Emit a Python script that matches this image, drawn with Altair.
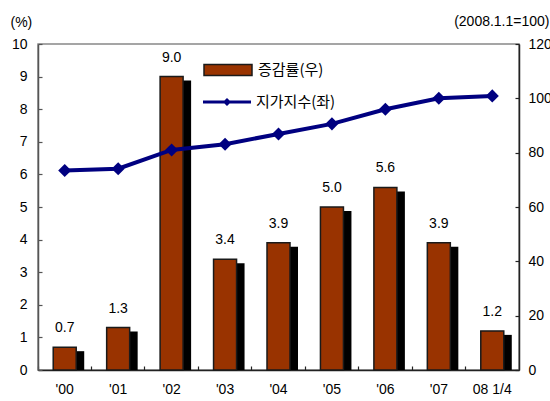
import altair as alt
import pandas as pd

cats = ["'00", "'01", "'02", "'03", "'04", "'05", "'06", "'07", "08 1/4"]
rate = [0.7, 1.3, 9.0, 3.4, 3.9, 5.0, 5.6, 3.9, 1.2]
land_index = [73.4, 74.1, 81.0, 83.1, 86.9, 90.6, 96.0, 100.0, 100.9]
bar_name = "증감률(우)"
line_name = "지가지수(좌)"

df = pd.DataFrame({
    "cat": cats,
    "rate": rate,
    "idx": land_index,
    "bar_s": [bar_name] * len(cats),
    "line_s": [line_name] * len(cats),
})

FONT = "Liberation Sans"
KFONT = "Noto Sans CJK KR"
ORANGE = "#993300"
NAVY = "#000080"
AX = "#222222"


def X(axis):
    return alt.X("cat:N", sort=cats,
                 scale=alt.Scale(paddingInner=0, paddingOuter=0),
                 axis=axis)


def YL(axis):
    return alt.Y("rate:Q", scale=alt.Scale(domain=[0, 10], nice=False, zero=True), axis=axis)


def YR(axis):
    return alt.Y("idx:Q", scale=alt.Scale(domain=[0, 120], nice=False, zero=True), axis=axis)


x_main = alt.Axis(orient="bottom", title=None, labelAngle=0, ticks=False,
                  domainColor=AX, domainWidth=1.5, labelFontSize=14,
                  labelPadding=12, labelColor="black", labelFont=FONT)
x_ticks = alt.Axis(orient="bottom", title=None, labels=False, domain=False,
                   ticks=True, tickSize=4, tickColor=AX, tickWidth=1.2,
                   bandPosition=0, offset=-4)

yl_main = alt.Axis(orient="left", title="(%)", titleAngle=0, titleX=-28, titleY=-18,
                   titleAlign="left", titleBaseline="alphabetic", titleFontSize=14,
                   titleFont=FONT, titleFontWeight="normal", titleColor="black",
                   ticks=False, values=list(range(0, 11)), labelPadding=11,
                   labelFontSize=14, labelFont=FONT, labelColor="black",
                   domainColor="#555555", domainWidth=1.5)
yl_ticks = alt.Axis(orient="left", title=None, labels=False, domain=False,
                    values=list(range(0, 11)), tickSize=4, tickColor="#555555",
                    tickWidth=1.2, offset=-4)

yr_main = alt.Axis(orient="right", title="(2008.1.1=100)", titleAngle=0, titleX=30,
                   titleY=-19, titleAlign="right", titleBaseline="alphabetic",
                   titleFontSize=14, titleFont=FONT, titleFontWeight="normal",
                   titleColor="black", ticks=False, values=list(range(0, 121, 20)),
                   labelPadding=9, labelFontSize=14, labelFont=FONT,
                   labelColor="black", domainColor=AX, domainWidth=1.5)
yr_ticks = alt.Axis(orient="right", title=None, labels=False, domain=False,
                    values=list(range(0, 121, 20)), tickSize=4, tickColor=AX,
                    tickWidth=1.2, offset=-4)

base = alt.Chart(df)

shadow = base.mark_bar(size=23, color="black", xOffset=8, yOffset=4, clip=True).encode(
    x=X(x_ticks), y=YL(yl_ticks))

bars = base.mark_bar(size=23, stroke="#1a1a1a", strokeWidth=1.5).encode(
    x=X(x_main), y=YL(yl_main),
    fill=alt.Fill("bar_s:N", scale=alt.Scale(domain=[bar_name], range=[ORANGE]),
                  legend=alt.Legend(title=None, orient="none", legendX=165, legendY=1,
                                    symbolType="M-1,-0.23H1V0.23H-1Z", symbolSize=2304,
                                    symbolStrokeColor="#1a1a1a", symbolStrokeWidth=1.5,
                                    labelFont=KFONT, labelFontSize=15, labelColor="black",
                                    labelOffset=5, padding=0)))

labels = base.mark_text(dy=-15, baseline="alphabetic", fontSize=14, font=FONT,
                        color="black").encode(
    x=X(None), y=YL(None), text=alt.Text("rate:Q", format=".1f"))

line = base.mark_line(strokeWidth=4).encode(
    x=X(None), y=YR(yr_main),
    stroke=alt.Stroke("line_s:N", scale=alt.Scale(domain=[line_name], range=[NAVY]),
                      legend=alt.Legend(title=None, orient="none", legendX=165, legendY=34,
                                        symbolType="M-1,-0.065H1V0.065H-1Z M0,-0.17L0.17,0L0,0.17L-0.17,0Z",
                                        symbolSize=2304, symbolFillColor=NAVY,
                                        symbolStrokeWidth=0,
                                        labelFont=KFONT, labelFontSize=15,
                                        labelColor="black", labelOffset=5, padding=0)))

points = base.mark_point(shape="diamond", filled=True, size=170, opacity=1,
                         color=NAVY).encode(x=X(None), y=YR(yr_ticks))

chart = alt.layer(shadow, bars, labels, line, points).resolve_scale(
    y="independent"
).resolve_axis(
    x="independent", y="independent"
).properties(
    width=481, height=326,
    autosize=alt.AutoSizeParams(type="none"),
    padding={"left": 38, "top": 44, "right": 31, "bottom": 31},
    background="white",
).configure_view(
    stroke="#888888", strokeWidth=1.5
).configure_axis(
    grid=False
)

chart.save("out.html", embed_options={"renderer": "svg", "actions": False})
